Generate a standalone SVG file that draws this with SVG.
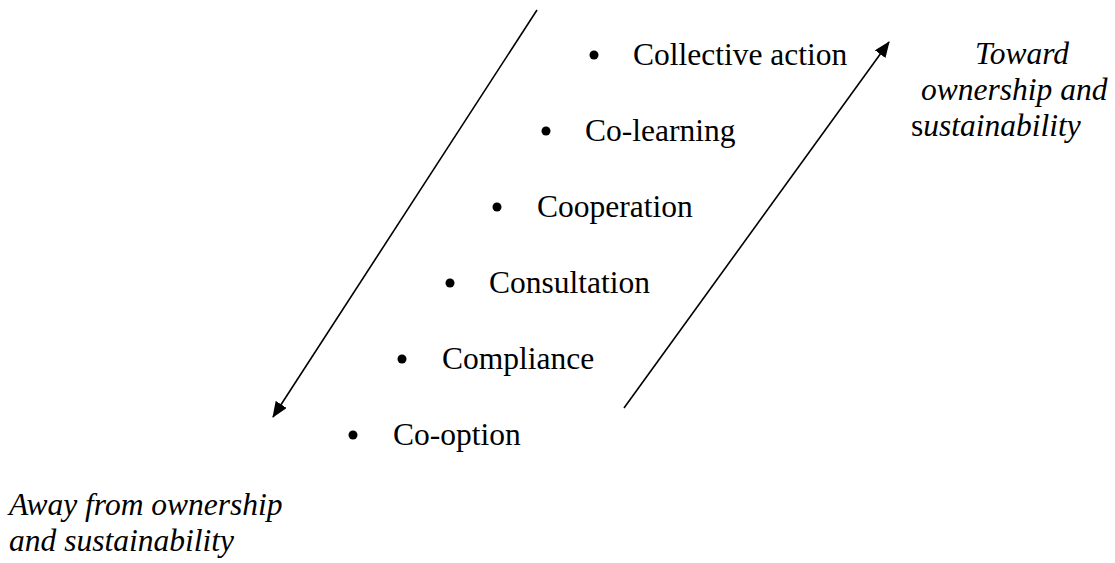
<svg xmlns="http://www.w3.org/2000/svg" width="1115" height="563" viewBox="0 0 1115 563">
<defs>
<style>
.t{font-family:"Liberation Serif","Times New Roman",serif;font-size:31.5px;fill:#000}
.i{font-family:"Liberation Serif","Times New Roman",serif;font-size:31.5px;font-style:italic;fill:#000}
.b{fill:#000}
.c{stroke:#000;stroke-width:1.6;fill:none}
</style>
<marker id="ah" viewBox="0 0 16 13" refX="15" refY="6.5" markerWidth="16" markerHeight="13" markerUnits="userSpaceOnUse" orient="auto">
<path d="M0,0 L16,6.5 L0,13 Z" fill="#000"/>
</marker>
</defs>
<rect width="1115" height="563" fill="#fff"/>
<g id="connectors">
<line class="c" x1="537" y1="10" x2="273" y2="417" marker-end="url(#ah)"/>
<line class="c" x1="624" y1="408" x2="889" y2="42" marker-end="url(#ah)"/>
</g>
<g id="collective-action"><circle class="b" cx="594" cy="55" r="4.5"/><text class="t" x="633" y="65">Collective action</text></g>
<g id="co-learning"><circle class="b" cx="546" cy="131" r="4.5"/><text class="t" x="585" y="141">Co-learning</text></g>
<g id="cooperation"><circle class="b" cx="497" cy="207" r="4.5"/><text class="t" x="537" y="217">Cooperation</text></g>
<g id="consultation"><circle class="b" cx="450" cy="283" r="4.5"/><text class="t" x="489" y="293">Consultation</text></g>
<g id="compliance"><circle class="b" cx="402" cy="359" r="4.5"/><text class="t" x="442" y="369">Compliance</text></g>
<g id="co-option"><circle class="b" cx="353" cy="435" r="4.5"/><text class="t" x="393" y="445">Co-option</text></g>
<g id="toward">
<text class="i" x="975" y="64">Toward</text>
<text class="i" x="921" y="100">ownership and</text>
<text class="t" x="911" y="136">s<tspan font-style="italic">ustainability</tspan></text>
</g>
<g id="away">
<text class="i" x="9" y="515">Away from ownership</text>
<text class="i" x="9" y="551">and sustainability</text>
</g>
</svg>
